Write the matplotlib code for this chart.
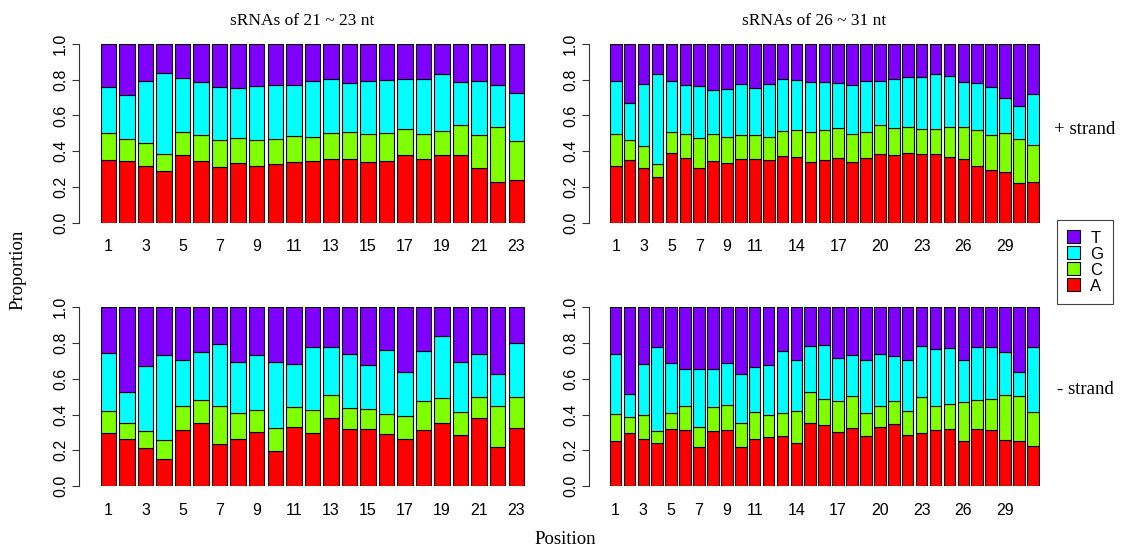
import matplotlib
matplotlib.use("Agg")
import matplotlib.pyplot as plt
import numpy as np
from matplotlib.patches import Patch

# ---- data: cumulative boundaries (A top, C top, G top) ----
# proportions per nucleotide: A, C, G, T (T = remainder)
tl_A = [0.351,0.347,0.315,0.287,0.381,0.345,0.312,0.334,0.317,0.330,0.338,0.343,0.354,0.354,0.340,0.347,0.379,0.358,0.377,0.377,0.306,0.229,0.237]
tl_C = [0.153,0.123,0.129,0.097,0.125,0.146,0.153,0.142,0.144,0.140,0.145,0.138,0.148,0.152,0.158,0.153,0.147,0.140,0.136,0.170,0.183,0.306,0.218]
tl_G = [0.253,0.246,0.349,0.452,0.306,0.298,0.294,0.276,0.302,0.302,0.289,0.310,0.300,0.274,0.293,0.297,0.278,0.304,0.321,0.238,0.302,0.237,0.269]

tr_A = [0.315,0.349,0.304,0.254,0.388,0.362,0.306,0.343,0.334,0.354,0.356,0.349,0.371,0.366,0.340,0.349,0.364,0.340,0.360,0.384,0.379,0.392,0.382,0.384,0.366,0.354,0.315,0.293,0.284,0.220,0.228]
tr_C = [0.179,0.112,0.127,0.076,0.118,0.136,0.166,0.155,0.144,0.137,0.135,0.129,0.140,0.151,0.169,0.168,0.164,0.154,0.146,0.161,0.149,0.142,0.142,0.140,0.169,0.181,0.202,0.198,0.220,0.246,0.205]
tr_G = [0.301,0.211,0.347,0.502,0.289,0.274,0.295,0.246,0.270,0.283,0.265,0.296,0.295,0.282,0.280,0.270,0.252,0.275,0.285,0.248,0.276,0.279,0.293,0.310,0.288,0.254,0.263,0.266,0.196,0.189,0.289]

bl_A = [0.297,0.261,0.215,0.151,0.312,0.351,0.235,0.263,0.300,0.194,0.330,0.299,0.382,0.319,0.319,0.291,0.265,0.313,0.353,0.284,0.379,0.220,0.326]
bl_C = [0.121,0.093,0.091,0.105,0.134,0.128,0.211,0.144,0.127,0.129,0.114,0.125,0.127,0.119,0.112,0.114,0.125,0.163,0.141,0.128,0.119,0.226,0.172]
bl_G = [0.325,0.170,0.366,0.479,0.261,0.269,0.347,0.285,0.306,0.369,0.237,0.356,0.271,0.303,0.244,0.356,0.250,0.278,0.346,0.280,0.239,0.181,0.304]

br_A = [0.254,0.299,0.261,0.239,0.317,0.312,0.220,0.306,0.313,0.220,0.261,0.274,0.280,0.243,0.353,0.343,0.302,0.326,0.280,0.328,0.345,0.285,0.297,0.313,0.321,0.250,0.319,0.313,0.259,0.250,0.226]
br_C = [0.147,0.085,0.138,0.067,0.090,0.134,0.108,0.134,0.138,0.131,0.155,0.122,0.129,0.175,0.171,0.142,0.172,0.180,0.127,0.118,0.129,0.133,0.199,0.133,0.136,0.220,0.164,0.174,0.248,0.252,0.190]
br_G = [0.336,0.129,0.282,0.470,0.280,0.209,0.325,0.213,0.237,0.274,0.252,0.281,0.348,0.289,0.260,0.302,0.241,0.225,0.300,0.291,0.252,0.287,0.286,0.321,0.315,0.235,0.293,0.291,0.243,0.136,0.364]

ticks_left = [1,3,5,7,9,11,13,15,17,19,21,23]
ticks_right = [1,3,5,7,9,11,14,17,20,23,26,29]
titles = ["sRNAs of 21 ~ 23 nt", "sRNAs of 26 ~ 31 nt"]
nucs = ["A", "C", "G", "T"]
colors = {"A": "#FF0000", "C": "#80FF00", "G": "#00FFFF", "T": "#8000FF"}

W, H = 1124, 549
fig = plt.figure(figsize=(W/100, H/100), dpi=100)
sans = "Liberation Sans"
serif = "Liberation Serif"

def make_panel(A, C, G, ticks, axis_px, bar_l, bar_r, y1_px, y0_px, title=None):
    n = len(A)
    span = n*1.2 - 0.2
    scale = (bar_r - bar_l) / span
    xl = 0.2 - (bar_l - axis_px) / scale
    xr = n*1.2 + 0.1
    right_px = bar_r + 0.1*scale
    ax = fig.add_axes([axis_px/W, 1 - y0_px/H, (right_px-axis_px)/W, (y0_px-y1_px)/H])
    A = np.array(A); C = np.array(C); G = np.array(G)
    T = 1 - A - C - G
    x = 0.7 + 1.2*np.arange(n)
    bottom = np.zeros(n)
    for name, vals in zip(nucs, [A, C, G, T]):
        ax.bar(x, vals, width=1.0, bottom=bottom, color=colors[name],
               edgecolor="black", linewidth=0.8)
        bottom = bottom + vals
    ax.set_xlim(xl, xr)
    ax.set_ylim(0, 1)
    for s in ["top", "right", "bottom"]:
        ax.spines[s].set_visible(False)
    ax.spines["left"].set_color("#333333")
    ax.spines["left"].set_linewidth(0.8)
    ax.set_yticks([0, 0.2, 0.4, 0.6, 0.8, 1.0])
    ax.set_yticklabels(["0.0", "0.2", "0.4", "0.6", "0.8", "1.0"], rotation=90,
                       va="center", family=sans, fontsize=11.5)
    ax.tick_params(axis="y", length=5, width=0.8, color="#333333", pad=3)
    ax.set_xticks([0.7 + 1.2*(t-1) for t in ticks])
    ax.set_xticklabels([str(t) for t in ticks], family=sans, fontsize=11.5)
    ax.tick_params(axis="x", length=0, pad=12)
    if title:
        ax.set_title(title, family=serif, fontsize=12.5, pad=14)
    return ax

make_panel(tl_A, tl_C, tl_G, ticks_left, 79.3, 100.7, 524.0, 44.0, 222.7, titles[0])
make_panel(tr_A, tr_C, tr_G, ticks_right, 589.3, 610.0, 1038.7, 44.0, 222.7, titles[1])
make_panel(bl_A, bl_C, bl_G, ticks_left, 79.3, 100.7, 524.0, 307.3, 486.0)
make_panel(br_A, br_C, br_G, ticks_right, 589.3, 609.7, 1038.7, 307.3, 486.0)

fig.text(18/W, 1 - 270/H, "Proportion", rotation=90, ha="center", va="center",
         family=serif, fontsize=13.5)
fig.text(565/W, 1 - 540/H, "Position", ha="center", va="center",
         family=serif, fontsize=13.5)
fig.text(1085/W, 1 - 130/H, "+ strand", ha="center", va="center",
         family=serif, fontsize=13.5)
fig.text(1085/W, 1 - 390/H, "- strand", ha="center", va="center",
         family=serif, fontsize=13.5)

handles = [Patch(facecolor=colors[k], edgecolor="black", linewidth=0.8) for k in ["T", "G", "C", "A"]]
leg = fig.legend(handles, ["T", "G", "C", "A"], loc="center",
                 bbox_to_anchor=(1085/W, 1 - 262/H), prop={"family": sans, "size": 12},
                 handlelength=0.8, handleheight=0.8, handletextpad=0.6,
                 labelspacing=0.05, borderpad=0.6, fancybox=False, framealpha=1)
leg.get_frame().set_edgecolor("#444444")
leg.get_frame().set_linewidth(0.8)

fig.savefig("out.png", dpi=100)
